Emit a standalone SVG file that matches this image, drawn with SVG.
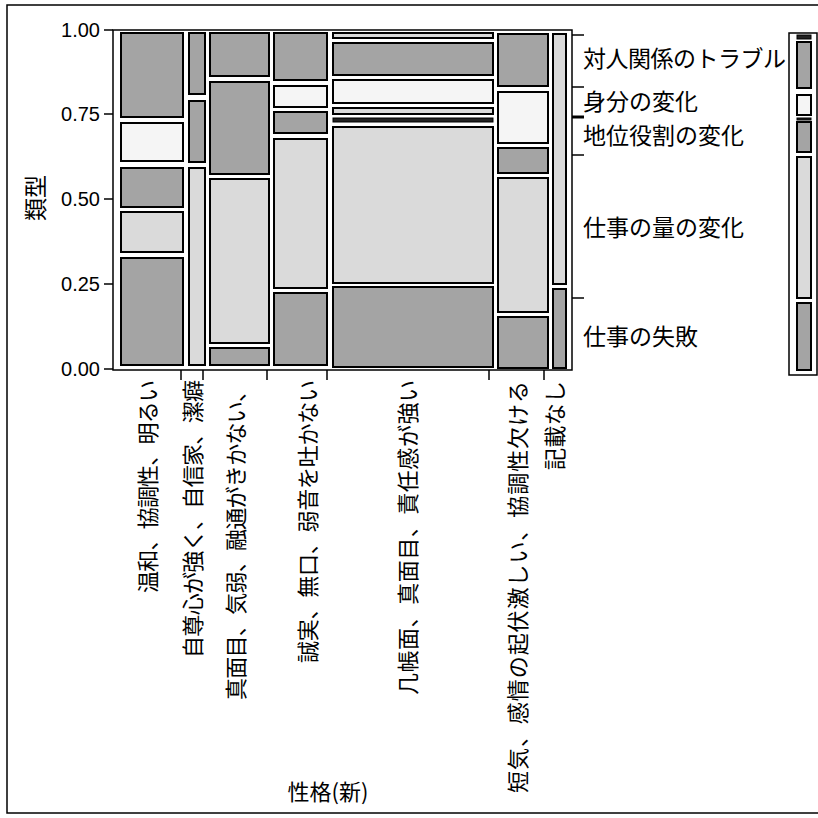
<svg xmlns="http://www.w3.org/2000/svg" width="818" height="818" viewBox="0 0 818 818">
<style>
.bg{fill:#ffffff}
.frame{fill:none;stroke:#000;stroke-width:1.5}
.axis{fill:none;stroke:#000;stroke-width:1.5}
.tick{stroke:#000;stroke-width:1.5}
.btick{stroke:#000;stroke-width:3}
.d{fill:#a4a4a4;stroke:#000;stroke-width:2}
.l{fill:#dadada;stroke:#000;stroke-width:2}
.w{fill:#f5f5f5;stroke:#000;stroke-width:2}
.k{fill:#222;stroke:#000;stroke-width:1}
.num{font-family:"Liberation Sans",Arial,sans-serif;font-size:20px;fill:#000;text-anchor:end}
.jp{font-family:"Noto Sans CJK JP","Noto Sans CJK SC",sans-serif;fill:#000}
.cat{font-size:23px}
.xl{font-size:22px;text-anchor:end}
</style>
<rect class="bg" x="0" y="0" width="818" height="818"/>
<rect class="frame" x="7" y="5" width="830" height="808"/>

<g id="axes">
  <rect class="axis" x="113" y="30" width="459" height="340"/>
  <line class="tick" x1="104" y1="30" x2="113" y2="30"/>
  <line class="tick" x1="104" y1="114" x2="113" y2="114"/>
  <line class="tick" x1="104" y1="199" x2="113" y2="199"/>
  <line class="tick" x1="104" y1="284" x2="113" y2="284"/>
  <line class="tick" x1="104" y1="369" x2="113" y2="369"/>
  <text class="num" x="100" y="37">1.00</text>
  <text class="num" x="100" y="121">0.75</text>
  <text class="num" x="100" y="206">0.50</text>
  <text class="num" x="100" y="291">0.25</text>
  <text class="num" x="100" y="376">0.00</text>
  <text class="jp" font-size="23" text-anchor="middle" transform="translate(44,198) rotate(-90)">類型</text>
  <line class="tick" x1="181" y1="370" x2="181" y2="380"/>
  <line class="tick" x1="203" y1="370" x2="203" y2="380"/>
  <line class="tick" x1="267" y1="370" x2="267" y2="380"/>
  <line class="tick" x1="327" y1="370" x2="327" y2="380"/>
  <line class="tick" x1="489" y1="370" x2="489" y2="380"/>
  <line class="tick" x1="544" y1="370" x2="544" y2="380"/>
  <line class="tick" x1="572" y1="35" x2="584" y2="35"/>
  <line class="tick" x1="572" y1="87" x2="584" y2="87"/>
  <line class="btick" x1="572" y1="117" x2="584" y2="117"/>
  <line class="tick" x1="572" y1="155" x2="584" y2="155"/>
  <line class="tick" x1="572" y1="298" x2="584" y2="298"/>
</g>

<g id="col1">
  <rect class="d" x="121" y="33" width="62" height="84"/>
  <rect class="w" x="121" y="123" width="62" height="38"/>
  <rect class="d" x="121" y="168" width="62" height="39"/>
  <rect class="l" x="121" y="212" width="62" height="40"/>
  <rect class="d" x="121" y="258" width="62" height="107"/>
  <text class="jp xl" transform="translate(156,380) rotate(-90)" textLength="213" lengthAdjust="spacing">温和、協調性、明るい</text>
</g>
<g id="col2">
  <rect class="d" x="189" y="33" width="16" height="61"/>
  <rect class="d" x="189" y="101" width="16" height="61"/>
  <rect class="l" x="189" y="168" width="16" height="197"/>
  <text class="jp xl" transform="translate(201,380) rotate(-90)" textLength="278" lengthAdjust="spacing">自尊心が強く、自信家、潔癖</text>
</g>
<g id="col3">
  <rect class="d" x="210" y="33" width="59" height="43"/>
  <rect class="d" x="210" y="82" width="59" height="92"/>
  <rect class="l" x="210" y="179" width="59" height="164"/>
  <rect class="d" x="210" y="348" width="59" height="17"/>
  <text class="jp xl" transform="translate(244,380) rotate(-90)" textLength="320" lengthAdjust="spacing">真面目、気弱、融通がきかない、</text>
</g>
<g id="col4">
  <rect class="d" x="274" y="33" width="53" height="47"/>
  <rect class="w" x="274" y="86" width="53" height="21"/>
  <rect class="d" x="274" y="112" width="53" height="21"/>
  <rect class="l" x="274" y="139" width="53" height="149"/>
  <rect class="d" x="274" y="293" width="53" height="72"/>
  <text class="jp xl" transform="translate(316,380) rotate(-90)" textLength="283" lengthAdjust="spacing">誠実、無口、弱音を吐かない</text>
</g>
<g id="col5">
  <rect class="l" x="333" y="33" width="160" height="5"/>
  <rect class="d" x="333" y="43" width="160" height="32"/>
  <rect class="w" x="333" y="80" width="160" height="23"/>
  <rect class="l" x="333" y="108" width="160" height="6"/>
  <rect class="k" x="333" y="118" width="160" height="4"/>
  <rect class="l" x="333" y="127" width="160" height="156"/>
  <rect class="d" x="333" y="287" width="160" height="80"/>
  <text class="jp xl" transform="translate(416,380) rotate(-90)" textLength="315" lengthAdjust="spacing">几帳面、真面目、責任感が強い</text>
</g>
<g id="col6">
  <rect class="d" x="498" y="34" width="50" height="52"/>
  <rect class="w" x="498" y="92" width="50" height="51"/>
  <rect class="d" x="498" y="148" width="50" height="25"/>
  <rect class="l" x="498" y="178" width="50" height="134"/>
  <rect class="d" x="498" y="317" width="50" height="51"/>
  <text class="jp xl" transform="translate(526,381) rotate(-90)" textLength="412" lengthAdjust="spacing">短気、感情の起伏激しい、協調性欠ける</text>
</g>
<g id="col7">
  <rect class="l" x="553" y="34" width="13" height="250"/>
  <rect class="d" x="553" y="289" width="13" height="79"/>
  <text class="jp xl" transform="translate(563,381) rotate(-90)" textLength="89" lengthAdjust="spacing">記載なし</text>
</g>

<g id="categories">
  <text class="jp cat" x="583" y="67" textLength="203" lengthAdjust="spacing">対人関係のトラブル</text>
  <text class="jp cat" x="583" y="110">身分の変化</text>
  <text class="jp cat" x="583" y="144">地位役割の変化</text>
  <text class="jp cat" x="583" y="236">仕事の量の変化</text>
  <text class="jp cat" x="583" y="345">仕事の失敗</text>
</g>

<g id="legend">
  <rect class="frame" x="789" y="33" width="28" height="342"/>
  <rect class="k" x="797" y="35" width="14" height="4"/>
  <rect class="d" x="797" y="42" width="14" height="46"/>
  <rect class="w" x="797" y="95" width="14" height="20"/>
  <rect class="k" x="797" y="118" width="14" height="2"/>
  <rect class="d" x="797" y="122" width="14" height="30"/>
  <rect class="l" x="797" y="157" width="14" height="141"/>
  <rect class="d" x="797" y="303" width="14" height="67"/>
</g>

<text class="jp" font-size="22" text-anchor="middle" x="328" y="800">性格(新)</text>
</svg>
